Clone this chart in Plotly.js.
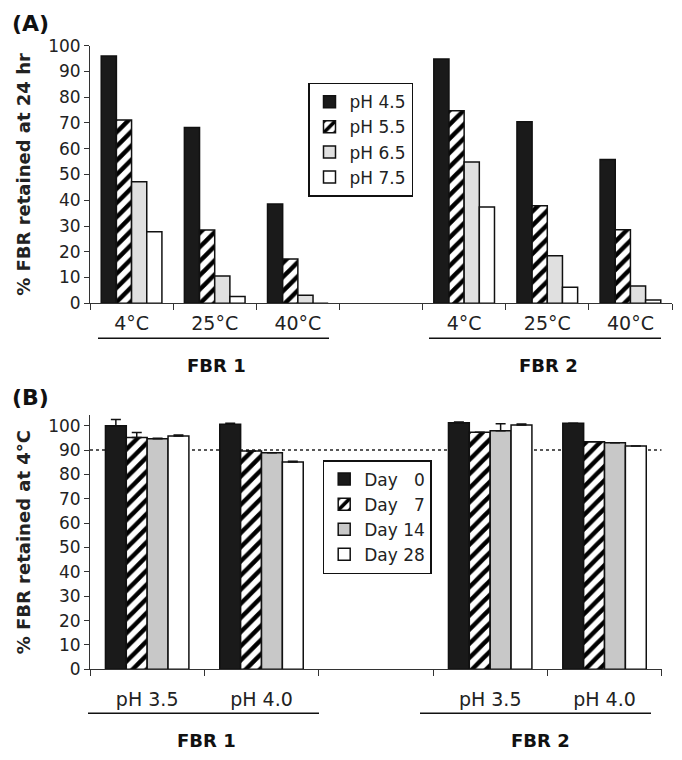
<!DOCTYPE html>
<html>
<head>
<meta charset="utf-8">
<script src="https://cdn.plot.ly/plotly-3.0.1.min.js"></script>
<style>html,body{margin:0;padding:0;background:#fff;}#chart{width:682px;height:760px;}</style>
</head>
<body>
<div id="chart"></div>
<script>
// ---------- Panel A data ----------
const groupsA = ["FBR 1", "FBR 2"];
const tempsA = ["4°C", "25°C", "40°C"];
const seriesA = ["pH 4.5", "pH 5.5", "pH 6.5", "pH 7.5"];
// values ordered: FBR1 4°C, 25°C, 40°C, FBR2 4°C, 25°C, 40°C
const ph45 = [96, 68.2, 38.5, 94.8, 70.5, 55.8];
const ph55 = [71.2, 28.5, 17.2, 74.7, 37.9, 28.6];
const ph65 = [47.2, 10.6, 3.1, 54.9, 18.5, 6.7];
const ph75 = [27.8, 2.6, 0, 37.4, 6.2, 1.3];

// ---------- Panel B data ----------
const groupsB = ["FBR 1", "FBR 2"];
const phB = ["pH 3.5", "pH 4.0"];
const seriesB = ["Day\u00a0\u00a0\u00a00", "Day\u00a0\u00a0\u00a07", "Day 14", "Day 28"];
// values ordered: FBR1 pH3.5, pH4.0, FBR2 pH3.5, pH4.0
const day0 = [100.0, 100.6, 101.2, 101.0];
const day7 = [95.2, 89.6, 97.3, 93.4];
const day14 = [94.6, 88.9, 97.9, 93.0];
const day28 = [95.8, 85.1, 100.3, 91.7];
const err0 = [2.6, 0.4, 0.3, 0];
const err7 = [2.0, 0, 0, 0];
const err14 = [0.3, 0, 2.9, 0];
const err28 = [0.4, 0.3, 0.4, 0];
const refLineB = 90;

// ---------- helpers ----------
const FONT = "DejaVu Sans";
function positions(groups, cats) {
  const xs = [], labels = [];
  groups.forEach((g, gi) => cats.forEach((c, ci) => { xs.push(gi * (cats.length + 1) + ci); labels.push(c); }));
  return {xs, labels, last: xs[xs.length - 1]};
}
const pA = positions(groupsA, tempsA);
const pB = positions(groupsB, phB);
function bounds(last) { const b = []; for (let i = -0.5; i <= last + 0.5; i += 1) b.push(i); return b; }

const stylesA = [
  {color: "#1a1a1a"},
  {color: "#ffffff", pattern: {shape: "/", fgcolor: "#000000", bgcolor: "#ffffff", size: 10, solidity: 0.45}},
  {color: "#e0e0e0"},
  {color: "#ffffff"}
];
const stylesB = [
  {color: "#1a1a1a"},
  {color: "#ffffff", pattern: {shape: "/", fgcolor: "#000000", bgcolor: "#ffffff", size: 10, solidity: 0.45}},
  {color: "#c8c8c8"},
  {color: "#ffffff"}
];

const valsA = [ph45, ph55, ph65, ph75];
const valsB = [day0, day7, day14, day28];
const errsB = [err0, err7, err14, err28];

const traces = [];
seriesA.forEach((name, i) => {
  traces.push({
    type: "bar", name: name, x: pA.xs, y: valsA[i], xaxis: "x", yaxis: "y", legend: "legend",
    marker: Object.assign({line: {color: "#111", width: 1.5}}, stylesA[i]),
    hoverinfo: "y+name"
  });
});
seriesB.forEach((name, i) => {
  traces.push({
    type: "bar", name: name, x: pB.xs, y: valsB[i], xaxis: "x2", yaxis: "y2", legend: "legend2",
    marker: Object.assign({line: {color: "#111", width: 1.5}}, stylesB[i]),
    error_y: {type: "data", symmetric: false, array: errsB[i], arrayminus: errsB[i].map(() => 0), color: "#111", thickness: 1.5, width: 5},
    hoverinfo: "y+name"
  });
});

function xaxisCfg(p, domain, anchor, standoff) {
  return {
    domain: domain, anchor: anchor, range: [-0.5, p.last + 0.5], fixedrange: true,
    tickmode: "array", tickvals: p.xs, ticktext: p.labels, ticks: "",
    ticklabelstandoff: standoff,
    tickfont: {family: FONT, size: 19, color: "#222"},
    showline: true, linecolor: "#333", linewidth: 1, showgrid: false, zeroline: false,
    minor: {tickmode: "array", tickvals: bounds(p.last), ticks: "outside", ticklen: 6, tickwidth: 1, tickcolor: "#333", showgrid: false},
    automargin: false
  };
}
function yaxisCfg(title, range, domain, anchor) {
  return {
    domain: domain, anchor: anchor, range: range, fixedrange: true,
    tickmode: "linear", tick0: 0, dtick: 10,
    ticks: "outside", ticklen: 5, tickwidth: 1, tickcolor: "#333",
    tickfont: {family: FONT, size: 17, color: "#222"},
    showline: true, linecolor: "#333", linewidth: 1, showgrid: false, zeroline: false,
    title: {text: title, font: {family: FONT, size: 18, weight: "bold", color: "#222"}, standoff: 12},
    automargin: false
  };
}

const W = 682, H = 760;
const px = v => v / W, py = v => 1 - v / H;

const layout = {
  width: W, height: H,
  margin: {l: 0, r: 0, t: 0, b: 0},
  paper_bgcolor: "#ffffff", plot_bgcolor: "#ffffff",
  font: {family: FONT, color: "#222"},
  barmode: "group", bargap: 0.27, bargroupgap: 0,
  showlegend: true,
  xaxis: xaxisCfg(pA, [px(90), px(672)], "y", 3),
  yaxis: yaxisCfg("% FBR retained at 24 hr", [0, 100], [py(303.3), py(45.7)], "x"),
  xaxis2: xaxisCfg(pB, [px(90), px(661.7)], "y2", 13),
  yaxis2: yaxisCfg("% FBR retained at 4°C", [0, 104.4], [py(669.3), py(415)], "x2"),
  legend: {x: px(308), y: py(82.7), xanchor: "left", yanchor: "top", bgcolor: "#fff", bordercolor: "#111", borderwidth: 1.5,
           font: {family: FONT, size: 17, color: "#222"}, tracegroupgap: 0},
  legend2: {x: px(322.7), y: py(460), xanchor: "left", yanchor: "top", bgcolor: "#fff", bordercolor: "#111", borderwidth: 1.5,
           font: {family: FONT, size: 17, color: "#222"}, tracegroupgap: 0},
  shapes: [
    {type: "line", xref: "x2", yref: "y2", x0: -0.5, x1: pB.last + 0.5, y0: refLineB, y1: refLineB, layer: "below",
     line: {color: "#222", width: 1.5, dash: "dot"}},
    {type: "line", xref: "paper", yref: "paper", x0: px(98), x1: px(329), y0: py(338.3), y1: py(338.3), line: {color: "#111", width: 1.5}},
    {type: "line", xref: "paper", yref: "paper", x0: px(429), x1: px(661), y0: py(338.3), y1: py(338.3), line: {color: "#111", width: 1.5}},
    {type: "line", xref: "paper", yref: "paper", x0: px(88), x1: px(319), y0: py(713.3), y1: py(713.3), line: {color: "#111", width: 1.5}},
    {type: "line", xref: "paper", yref: "paper", x0: px(420), x1: px(651), y0: py(713.3), y1: py(713.3), line: {color: "#111", width: 1.5}}
  ],
  annotations: [
    {text: "(A)", xref: "paper", yref: "paper", x: px(10), y: py(23), xanchor: "left", yanchor: "middle", showarrow: false,
     font: {family: FONT, size: 22, weight: "bold", color: "#111"}},
    {text: "(B)", xref: "paper", yref: "paper", x: px(10), y: py(397), xanchor: "left", yanchor: "middle", showarrow: false,
     font: {family: FONT, size: 22, weight: "bold", color: "#111"}},
    {text: groupsA[0], xref: "paper", yref: "paper", x: px(216), y: py(365), xanchor: "center", yanchor: "middle", showarrow: false,
     font: {family: FONT, size: 18, weight: "bold", color: "#111"}},
    {text: groupsA[1], xref: "paper", yref: "paper", x: px(548), y: py(365), xanchor: "center", yanchor: "middle", showarrow: false,
     font: {family: FONT, size: 18, weight: "bold", color: "#111"}},
    {text: groupsB[0], xref: "paper", yref: "paper", x: px(206.7), y: py(740), xanchor: "center", yanchor: "middle", showarrow: false,
     font: {family: FONT, size: 18, weight: "bold", color: "#111"}},
    {text: groupsB[1], xref: "paper", yref: "paper", x: px(540), y: py(740), xanchor: "center", yanchor: "middle", showarrow: false,
     font: {family: FONT, size: 18, weight: "bold", color: "#111"}}
  ]
};

Plotly.newPlot("chart", traces, layout, {displayModeBar: false, staticPlot: true});
</script>
</body>
</html>
